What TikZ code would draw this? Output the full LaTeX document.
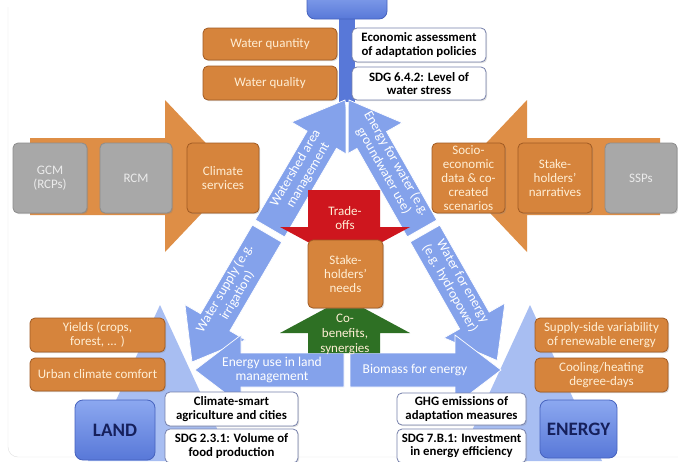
\documentclass[tikz,border=0pt]{standalone}
\usepackage{fontspec}
\setmainfont{Carlito}
\usepackage{tikz}
\usetikzlibrary{shadows}
\definecolor{boxorange}{RGB}{214,132,60}
\definecolor{arroworange}{RGB}{222,142,70}
\definecolor{orangeline}{RGB}{160,90,35}
\definecolor{boxgrey}{RGB}{168,168,168}
\definecolor{greyline}{RGB}{140,140,140}
\definecolor{flowblue}{RGB}{132,162,235}
\definecolor{cornertop}{RGB}{140,168,240}
\definecolor{cornerbot}{RGB}{88,120,216}
\definecolor{cornerline}{RGB}{70,98,190}
\definecolor{wedgeblue}{RGB}{168,190,242}
\definecolor{whiteline}{RGB}{118,128,170}
\definecolor{cream}{RGB}{255,238,212}
\definecolor{tradered}{RGB}{206,22,30}
\definecolor{cogreen}{RGB}{46,112,36}
\definecolor{navy}{RGB}{22,32,92}
\definecolor{cardline}{RGB}{225,225,225}
\tikzstyle{obox} = [draw=orangeline, fill=boxorange, rounded corners=5pt,
    text=cream, align=center, line width=0.8pt, inner sep=1pt,
    font=\fontsize{13}{14.2}\selectfont,
    drop shadow={shadow xshift=1.2pt, shadow yshift=-1.2pt, opacity=0.3}]
\tikzstyle{gbox} = [obox, draw=greyline, fill=boxgrey, text=white!92!black]
\tikzstyle{wbox} = [draw=whiteline, fill=white, rounded corners=5pt,
    align=center, line width=0.8pt, inner sep=1pt,
    font=\fontsize{12.8}{13.6}\selectfont\bfseries,
    drop shadow={shadow xshift=1.2pt, shadow yshift=-1.2pt, opacity=0.25}]
\tikzstyle{cbox} = [draw=cornerline, top color=cornertop, bottom color=cornerbot,
    rounded corners=8pt, text=navy, line width=0.8pt,
    font=\fontsize{19}{22}\selectfont\bfseries]
\tikzstyle{flowtext} = [text=white, align=center, inner sep=0pt,
    font=\fontsize{13.5}{14.5}\selectfont]
\tikzset{flowfill/.style={fill=flowblue, draw=white, line width=0.7pt}}
% block arrow: tail, angle, length
\newcommand{\flowarrow}[3]{%
  \begin{scope}[shift={(#1)}, rotate=#2]
    \path[flowfill] (0,-17) -- ({#3-46},-17) -- ({#3-46},-35) -- (#3,0)
      -- ({#3-46},35) -- ({#3-46},17) -- (0,17) -- cycle;
  \end{scope}}

\begin{document}
\begin{tikzpicture}[x=1pt, y=-1pt]
\useasboundingbox (0,0) rectangle (678,461);
\fill[white] (0,0) rectangle (678,461);
\clip (0,0) rectangle (678,461);
\draw[cardline, rounded corners=10] (8,7) -- (8,457) -- (678,457); %card
% climate and socio-economic inputs
\fill[arroworange] (30,138) -- (165,138) -- (165,100) -- (237,176)
    -- (165,252) -- (165,215) -- (30,215) -- cycle;
\fill[arroworange] (660,138) -- (527,138) -- (527,100) -- (455,176)
    -- (527,252) -- (527,215) -- (660,215) -- cycle;
% corners
\fill[cornerbot] (339,10) rectangle (355,102);
\node[cbox, minimum width=80, minimum height=30] (water) at (347,4) {};
\fill[wedgeblue] (160,305) -- (232,461) -- (88,461) -- cycle;
\fill[wedgeblue] (530,305) -- (602,461) -- (458,461) -- cycle;
% nexus arrows
\begin{scope}
    \clip (0,0) rectangle (345.5,461);
    \flowarrow{270,228.4}{59.71}{148.7}
\end{scope}
\flowarrow{267,233.6}{239.71}{148.7}
\begin{scope}
    \clip (348.5,0) rectangle (678,461);
    \flowarrow{422,228.4}{119.62}{147.7}
\end{scope}
\flowarrow{425,233.6}{-60.38}{146}
\flowarrow{344,370}{180}{149}
\flowarrow{350,370}{0}{151}
% trade-offs and co-benefits
\fill[tradered] (308,190) -- (380,190) -- (380,227) -- (410,227)
    -- (345,262) -- (280,227) -- (308,227) -- cycle;
\fill[cogreen] (308,353) -- (308,333) -- (280,333) -- (345,298)
    -- (410,333) -- (380,333) -- (380,353) -- cycle;
\node[text=cream, align=center, font=\fontsize{13}{14.5}\selectfont]
    (trade) at (345,218) {Trade-\\offs};
\node[text=cream, align=center, font=\fontsize{13}{15}\selectfont]
    (cobenefit) at (345,334) {Co-\\benefits,\\synergies};
% water
\node[obox, minimum width=134, minimum height=32] (wqty) at (270,44) {Water quantity};
\node[obox, minimum width=134, minimum height=34] (wqual) at (270,83) {Water quality};
\node[wbox, minimum width=134, minimum height=34] (econ) at (419,45)
    {Economic assessment\\of adaptation policies};
\node[wbox, minimum width=134, minimum height=33] (sdgw) at (419,83.5)
    {SDG 6.4.2: Level of\\water stress};
% climate side
\node[gbox, minimum width=74, minimum height=70] (gcm) at (50,178) {GCM\\(RCPs)};
\node[gbox, minimum width=72, minimum height=70] (rcm) at (136,178) {RCM};
\node[obox, minimum width=72, minimum height=70] (climserv) at (223,178) {Climate\\services};
% socio-economic side
\node[obox, minimum width=73, minimum height=70] (socio) at (468.5,178)
    {Socio-\\economic\\data \& co-\\created\\scenarios};
\node[obox, minimum width=74, minimum height=70] (narr) at (555,178)
    {Stake-\\holders'\\narratives};
\node[gbox, minimum width=72, minimum height=70] (ssp) at (641,178) {SSPs};
\node[obox, minimum width=75, minimum height=68] (needs) at (345.5,274)
    {Stake-\\holders'\\needs};
% land
\node[obox, minimum width=135, minimum height=34] (yields) at (97.5,335)
    {Yields (crops,\\forest, ... )};
\node[obox, minimum width=135, minimum height=33] (urban) at (97.5,374.5)
    {Urban climate comfort};
\node[cbox, minimum width=80, minimum height=60] (land) at (115,430) {LAND};
\node[wbox, minimum width=133, minimum height=34] (csa) at (231.5,409)
    {Climate-smart\\agriculture and cities};
\node[wbox, minimum width=133, minimum height=34] (sdgl) at (231.5,446)
    {SDG 2.3.1: Volume of\\food production};
% energy
\node[obox, minimum width=133, minimum height=34] (supply) at (601.5,335)
    {Supply-side variability\\of renewable energy};
\node[obox, minimum width=133, minimum height=34] (cooling) at (601.5,375)
    {Cooling/heating\\degree-days};
\node[cbox, minimum width=77, minimum height=58] (energy) at (578.5,429) {ENERGY};
\node[wbox, minimum width=129, minimum height=32] (ghg) at (461.5,409)
    {GHG emissions of\\adaptation measures};
\node[wbox, minimum width=129, minimum height=34] (sdge) at (461.5,446)
    {SDG 7.B.1: Investment\\in energy efficiency};
% arrow labels
\node[flowtext, rotate=59.71] (watershed) at (302,172) {Watershed area\\management};
\node[flowtext, rotate=59.71] (supplyw) at (231,292) {Water supply (e.g.\\irrigation)};
\node[flowtext, rotate=-60.38] (pumping) at (390,167) {Energy for water (e.g.\\groundwater use)};
\node[flowtext, rotate=-60.38] (hydro) at (456,285) {Water for energy\\(e.g. hydropower)};
\node[flowtext] (landuse) at (272,370) {Energy use in land\\management};
\node[flowtext] (biomass) at (415,370) {Biomass for energy};
\end{tikzpicture}
\end{document}
